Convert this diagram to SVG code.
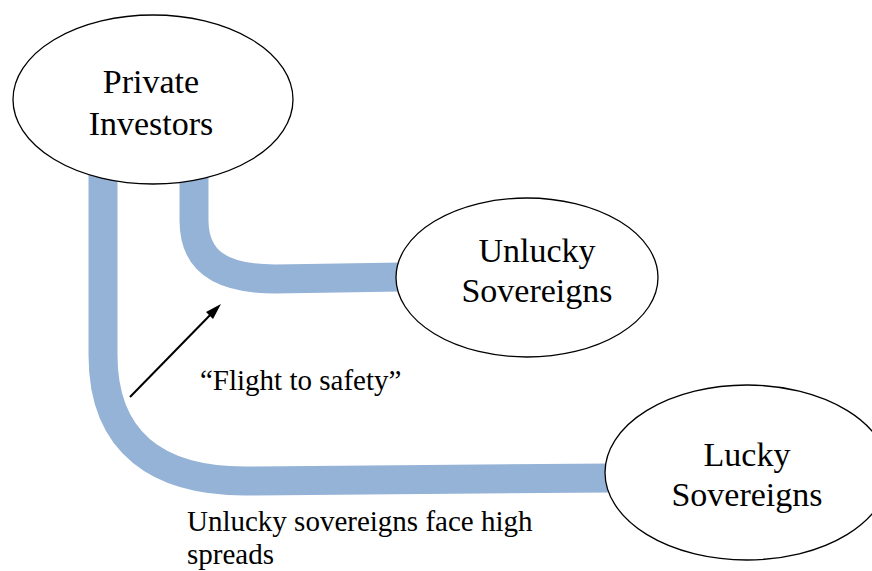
<svg xmlns="http://www.w3.org/2000/svg" width="872" height="571" viewBox="0 0 872 571">
<defs>
<style>
.band{fill:none;stroke:#95B3D7;stroke-width:29}
.node{fill:#FFFFFF;stroke:#000000;stroke-width:1.3}
.lbl{font-family:"Liberation Serif","Times New Roman",serif;font-size:34px;fill:#000000;text-anchor:middle}
.note{font-family:"Liberation Serif","Times New Roman",serif;font-size:29px;fill:#000000}
</style>
</defs>
<rect width="872" height="571" fill="#FFFFFF"/>
<g id="connectors">
<path class="band" d="M103,175 L103,355 C103,445 160,481 245,481 L610,478"/>
<path class="band" d="M194,175 L194,220 C194,262 222,279 275,279 L402,277"/>
<line x1="130" y1="397" x2="216" y2="309" stroke="#000000" stroke-width="2"/>
<path d="M221,304 L206,312 L213,319 z" fill="#000000"/>
</g>
<g id="private-investors">
<ellipse class="node" cx="153" cy="99.5" rx="140" ry="84.5"/>
<text class="lbl" x="151" y="93">Private</text>
<text class="lbl" x="151" y="135">Investors</text>
</g>
<g id="unlucky-sovereigns">
<ellipse class="node" cx="527" cy="277.5" rx="131" ry="79.5"/>
<text class="lbl" x="537" y="262">Unlucky</text>
<text class="lbl" x="537" y="302">Sovereigns</text>
</g>
<g id="lucky-sovereigns">
<ellipse class="node" cx="747" cy="472.5" rx="142" ry="87.5"/>
<text class="lbl" x="747" y="466">Lucky</text>
<text class="lbl" x="747" y="506">Sovereigns</text>
</g>
<g id="labels">
<text class="note" x="200" y="390">“Flight to safety”</text>
<text class="note" x="187" y="531">Unlucky sovereigns face high</text>
<text class="note" x="187" y="564">spreads</text>
</g>
</svg>
